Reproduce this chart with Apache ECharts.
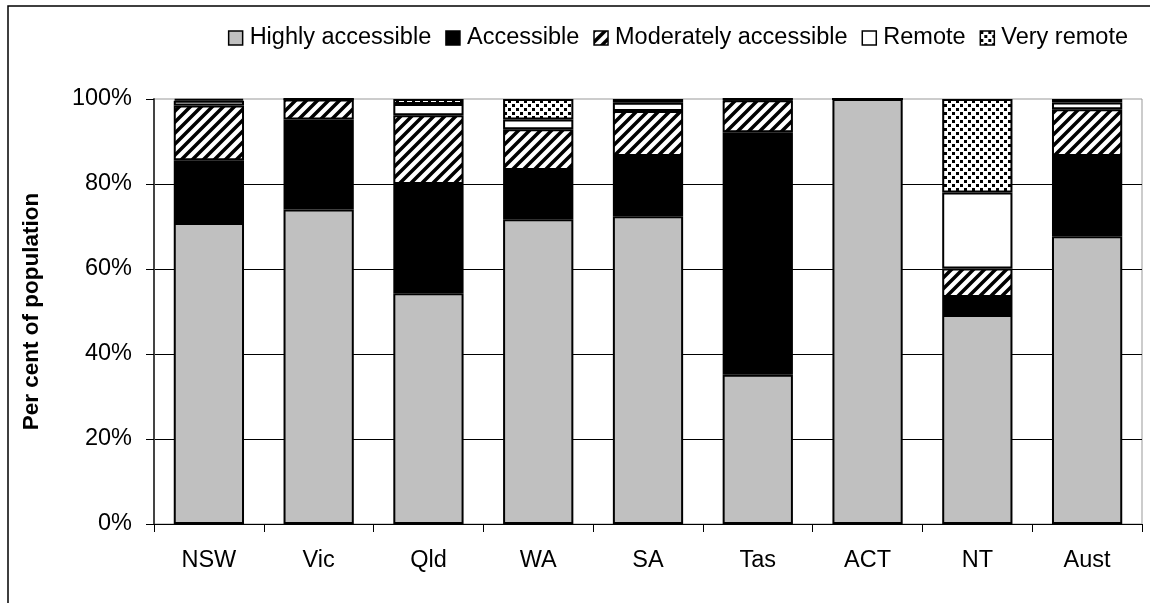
<!DOCTYPE html>
<html>
<head>
<meta charset="utf-8">
<script src="https://cdn.jsdelivr.net/npm/echarts@6/dist/echarts.min.js"></script>
<style>
  html, body { margin: 0; padding: 0; background: #fff; }
  #chart { width: 1150px; height: 603px; }
</style>
</head>
<body>
<div id="chart"></div>
<script>
// per cent of population by remoteness area
var states = ['NSW', 'Vic', 'Qld', 'WA', 'SA', 'Tas', 'ACT', 'NT', 'Aust'];
var highly = [70.8, 74.0, 54.3, 71.7, 72.4, 35.1, 100, 49.2, 67.7];
var accessible = [14.8, 21.2, 25.7, 11.6, 14.2, 57.1, 0, 4.2, 18.9];
var moderately = [12.9, 4.7, 16.2, 9.6, 10.6, 7.5, 0, 6.7, 11.0];
var remote = [1.1, 0.1, 2.6, 2.3, 1.9, 0.3, 0, 17.9, 1.6];
var veryRemote = [0.4, 0, 1.2, 4.8, 0.9, 0, 0, 22.0, 0.8];
var yTicks = [0, 20, 40, 60, 80, 100];

var FONT = '"Liberation Sans", Arial, sans-serif';

// diagonal hatch tile
function hatchTile() {
    var c = document.createElement('canvas');
    c.width = 11; c.height = 11;
    var g = c.getContext('2d');
    g.fillStyle = '#fff';
    g.fillRect(0, 0, 11, 11);
    g.strokeStyle = '#000';
    g.lineWidth = 3.5;
    g.beginPath();
    g.moveTo(-2, 2); g.lineTo(2, -2);
    g.moveTo(0, 11); g.lineTo(11, 0);
    g.moveTo(9, 13); g.lineTo(13, 9);
    g.stroke();
    return c;
}

// dotted tile
function dotTile() {
    var c = document.createElement('canvas');
    c.width = 8; c.height = 8;
    var g = c.getContext('2d');
    g.fillStyle = '#fff';
    g.fillRect(0, 0, 8, 8);
    g.fillStyle = '#000';
    g.fillRect(0, 0, 3, 3);
    g.fillRect(4, 4, 3, 3);
    return c;
}

var hatch = { image: hatchTile(), repeat: 'repeat' };
var dots = { image: dotTile(), repeat: 'repeat' };

function makeSeries(name, data, color) {
    return {
        name: name,
        type: 'bar',
        stack: 'total',
        barWidth: '64%',
        data: data,
        itemStyle: { color: color, borderColor: '#000', borderWidth: 2 }
    };
}

var myChart = echarts.init(document.getElementById('chart'));
var option = {
    animation: false,
    textStyle: { fontFamily: FONT },
    graphic: [{
        type: 'rect',
        shape: { x: 8, y: 6, width: 1200, height: 700 },
        style: { fill: 'none', stroke: '#000', lineWidth: 1.5 },
        silent: true
    }],
    legend: {
        right: 17,
        top: 21,
        itemWidth: 14,
        itemHeight: 14,
        itemGap: 14,
        icon: 'rect',
        itemStyle: { borderColor: '#000', borderWidth: 1.5 },
        textStyle: { fontSize: 23.5, color: '#000', fontFamily: FONT, padding: [0, 0, 0, 2] },
        data: ['Highly accessible', 'Accessible', 'Moderately accessible', 'Remote', 'Very remote']
    },
    grid: {
        left: 154,
        right: 8,
        top: 99,
        bottom: 79,
        show: true,
        borderColor: '#999',
        borderWidth: 1
    },
    xAxis: {
        type: 'category',
        data: states,
        axisLine: { lineStyle: { color: '#000', width: 1 } },
        axisTick: { show: true, length: 8, lineStyle: { color: '#000' } },
        axisLabel: { fontSize: 23.5, color: '#000', margin: 25, fontFamily: FONT }
    },
    yAxis: {
        type: 'value',
        min: yTicks[0],
        max: yTicks[yTicks.length - 1],
        interval: 20,
        name: 'Per cent of population',
        nameLocation: 'middle',
        nameGap: 111,
        nameTextStyle: { fontSize: 22.5, fontWeight: 'bold', color: '#000', fontFamily: FONT },
        axisLine: { show: true, lineStyle: { color: '#444', width: 2 } },
        axisTick: { show: true, length: 8, lineStyle: { color: '#000' } },
        axisLabel: { fontSize: 23.5, color: '#000', margin: 22, formatter: '{value}%', fontFamily: FONT },
        splitLine: { show: true, showMaxLine: false, lineStyle: { color: '#000', width: 1 } }
    },
    series: [
        makeSeries('Highly accessible', highly, '#c0c0c0'),
        makeSeries('Accessible', accessible, '#000'),
        makeSeries('Moderately accessible', moderately, hatch),
        makeSeries('Remote', remote, '#fff'),
        makeSeries('Very remote', veryRemote, dots)
    ]
};
myChart.setOption(option);
</script>
</body>
</html>
